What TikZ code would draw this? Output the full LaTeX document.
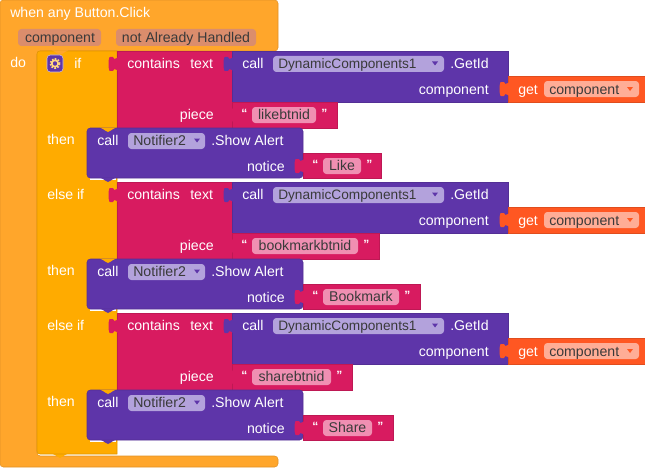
\documentclass[tikz,border=0pt]{standalone}
\usepackage{fontspec}
\setmainfont{Liberation Sans}
\usetikzlibrary{positioning, calc}

\definecolor{eventcol}{HTML}{FFA62B}
\definecolor{ifcol}{HTML}{FFAB00}
\definecolor{textcol}{HTML}{D81B60}
\definecolor{callcol}{HTML}{5E35A9}
\definecolor{getcol}{HTML}{FF5722}
\definecolor{paramfield}{HTML}{DB8D6C}
\definecolor{callfield}{HTML}{B3A2DC}
\definecolor{textfield}{HTML}{F08FB2}
\definecolor{getfield}{HTML}{FFAD96}
\definecolor{darktext}{HTML}{3A3A3A}

\tikzset{
    inputtab/.pic={
        \path[pic actions] (1,-7) -- (0,-6) .. controls (-2,-4) and (-4,-5) .. (-4,-7)
            -- (-7,-7) .. controls (-9,-7) and (-9,7) .. (-7,7) -- (-4,7)
            .. controls (-4,5) and (-2,4) .. (0,6) -- (1,7) -- cycle;
    },
    notch/.pic={
        \path[pic actions] (-8,-0.5) -- (8,-0.5) -- (5,1) .. controls (3,1) and (3,4) .. (0,4)
            .. controls (-3,4) and (-3,1) .. (-5,1) -- cycle;
    },
    ddarrow/.pic={
        \path[pic actions] (-3,-2) -- (3,-2) -- (0,2) -- cycle;
    }
}

\begin{document}
\begin{tikzpicture}[
    x=0.75pt, y=-0.75pt,
    eventblock/.style={fill=eventcol, draw=eventcol!88!black, line width=0.4pt, rounded corners=2.5pt},
    ifblock/.style={fill=ifcol, draw=ifcol!88!black, line width=0.4pt, rounded corners=2.5pt},
    textblock/.style={fill=textcol, draw=textcol!88!black, line width=0.4pt},
    callblock/.style={fill=callcol, draw=callcol!88!black, line width=0.4pt},
    getblock/.style={fill=getcol, draw=getcol!88!black, line width=0.4pt},
    field/.style={rounded corners=2.5pt},
    rim/.style={draw=white, line width=0.8pt},
    label/.style={text=white, font=\fontsize{10.6}{12}\selectfont, inner sep=0pt, anchor=base west, yshift=0.6pt},
    rlabel/.style={label, anchor=base east},
    ftext/.style={label, text=darktext},
    dyntext/.style={ftext, font=\fontsize{10.25}{12}\selectfont},
    quotes/.style={label, font=\fontsize{9}{10}\selectfont\bfseries}
]
    \useasboundingbox (0,0) rectangle (645,467);

    % Event block
    \path[eventblock] (0,0) -- (278,0) -- (278,51) -- (37,51) -- (37,456) -- (278,456) -- (278,467) -- (0,467) -- cycle;
    \node[label] (when) at (10,18) {when any Button.Click};
    \path[field, fill=paramfield] (18,29) rectangle (101,46);
    \node[ftext, anchor=base] (param1) at (60,43) {component};
    \path[field, fill=paramfield] (116,29) rectangle (256,46);
    \node[ftext, anchor=base] (param2) at (186,43) {not Already Handled};
    \node[label] (do) at (10,68) {do};

    % If block
    \pic[fill=ifcol] at (60,454) {notch};
    \path[ifblock, sharp corners] (117,51) -- (117,454) -- (40,454) .. controls (38,454) and (37,453) .. (37,451)
        -- (37,54) .. controls (37,52) and (38,51) .. (40,51) -- cycle;
    \pic[fill=eventcol] at (60,51) {notch};
    \path[field, fill=callcol, draw=callfield!70!white, line width=0.4pt] (47,55) rectangle (63,72);
    \draw[ifcol!50!white, line width=1.5pt, dash pattern=on 1.2pt off 1pt] (55,63.5) circle [radius=4.5];
    \draw[ifcol!50!white, line width=1.2pt] (55,63.5) circle [radius=3.2];
    \node[label] (if1) at (74,69) {if};
    \node[label] (then1) at (47,145) {then};
    \node[label] (elseif2) at (47,200) {else if};
    \node[label] (then2) at (47,276) {then};
    \node[label] (elseif3) at (47,331) {else if};
    \node[label] (then3) at (47,407) {then};

    % First condition
    \path[textblock] (117,51) rectangle (232,128);
    \pic[fill=textcol] at (117,64) {inputtab};
    \node[label] (contains1) at (127,69) {contains};
    \node[label] (text1) at (190,69) {text};
    \node[rlabel] (piece1) at (214,120) {piece};
    \path[callblock] (232,51) rectangle (508,102);
    \pic[fill=callcol] at (232,64) {inputtab};
    \node[label] (callid1) at (242,69) {call};
    \path[field, fill=callfield] (273,56) rectangle (444,72);
    \node[dyntext] (dyn1) at (278,69) {DynamicComponents1};
    \pic[fill=callcol] at (435,63.5) {ddarrow};
    \node[label] (getid1) at (450,69) {.GetId};
    \node[rlabel] (comp1) at (489,95) {component};
    \path[getblock] (508,76) rectangle (645,102);
    \pic[fill=getcol] at (508,89) {inputtab};
    \node[label] (get1) at (518,95) {get};
    \path[field, fill=getfield] (544,81) rectangle (639,97);
    \node[ftext] (getvar1) at (549,95) {component};
    \pic[fill=getcol] at (630,89) {ddarrow};
    \path[textblock] (232,102) rectangle (337,128);
    \pic[fill=textcol] at (232,115) {inputtab};
    \node[quotes] (open1) at (241,118) {“};
    \path[field, fill=textfield] (252,107) rectangle (316,123);
    \node[ftext, anchor=base] (likeid) at (284,120) {likebtnid};
    \node[quotes] (close1) at (321,118) {”};

    % First alert
    \path[rim] (90,179) -- (116,179);
    \path[callblock, rounded corners=2.5pt] (87,128) rectangle (303,178);
    \pic[fill=ifcol] at (108,128) {notch};
    \pic[fill=callcol] at (108,178) {notch};
    \node[label] (call1) at (97,146) {call};
    \path[field, fill=callfield] (128,133) rectangle (205,149);
    \node[ftext] (notif1) at (133,146) {Notifier2};
    \pic[fill=callcol] at (197,140.5) {ddarrow};
    \node[label] (show1) at (211,146) {.Show Alert};
    \node[rlabel] (notice1) at (285,172) {notice};
    \path[textblock] (303,153) rectangle (381,178);
    \pic[fill=textcol] at (303,166) {inputtab};
    \node[quotes] (open2) at (312,169) {“};
    \path[field, fill=textfield] (323,158) rectangle (361,174);
    \node[ftext, anchor=base] (like) at (342,171) {Like};
    \node[quotes] (close2) at (366,169) {”};

    % Second condition
    \path[textblock] (117,182) rectangle (232,259);
    \pic[fill=textcol] at (117,195) {inputtab};
    \node[label] (contains2) at (127,200) {contains};
    \node[label] (text2) at (190,200) {text};
    \node[rlabel] (piece2) at (214,251) {piece};
    \path[callblock] (232,182) rectangle (508,233);
    \pic[fill=callcol] at (232,195) {inputtab};
    \node[label] (callid2) at (242,200) {call};
    \path[field, fill=callfield] (273,187) rectangle (444,203);
    \node[dyntext] (dyn2) at (278,200) {DynamicComponents1};
    \pic[fill=callcol] at (435,194.5) {ddarrow};
    \node[label] (getid2) at (450,200) {.GetId};
    \node[rlabel] (comp2) at (489,226) {component};
    \path[getblock] (508,207) rectangle (645,233);
    \pic[fill=getcol] at (508,220) {inputtab};
    \node[label] (get2) at (518,226) {get};
    \path[field, fill=getfield] (544,212) rectangle (639,228);
    \node[ftext] (getvar2) at (549,226) {component};
    \pic[fill=getcol] at (630,220) {ddarrow};
    \path[textblock] (232,233) rectangle (379,259);
    \pic[fill=textcol] at (232,246) {inputtab};
    \node[quotes] (open3) at (241,249) {“};
    \path[field, fill=textfield] (252,238) rectangle (358,254);
    \node[ftext, anchor=base] (bookmarkid) at (305,251) {bookmarkbtnid};
    \node[quotes] (close3) at (363,249) {”};

    % Second alert
    \path[rim] (90,310) -- (116,310);
    \path[callblock, rounded corners=2.5pt] (87,259) rectangle (303,309);
    \pic[fill=ifcol] at (108,259) {notch};
    \pic[fill=callcol] at (108,309) {notch};
    \node[label] (call2) at (97,277) {call};
    \path[field, fill=callfield] (128,264) rectangle (205,280);
    \node[ftext] (notif2) at (133,277) {Notifier2};
    \pic[fill=callcol] at (197,271.5) {ddarrow};
    \node[label] (show2) at (211,277) {.Show Alert};
    \node[rlabel] (notice2) at (285,303) {notice};
    \path[textblock] (303,284) rectangle (420,309);
    \pic[fill=textcol] at (303,297) {inputtab};
    \node[quotes] (open4) at (312,300) {“};
    \path[field, fill=textfield] (323,289) rectangle (399,305);
    \node[ftext, anchor=base] (bookmark) at (361,302) {Bookmark};
    \node[quotes] (close4) at (404,300) {”};

    % Third condition
    \path[textblock] (117,313) rectangle (232,390);
    \pic[fill=textcol] at (117,326) {inputtab};
    \node[label] (contains3) at (127,331) {contains};
    \node[label] (text3) at (190,331) {text};
    \node[rlabel] (piece3) at (214,382) {piece};
    \path[callblock] (232,313) rectangle (508,364);
    \pic[fill=callcol] at (232,326) {inputtab};
    \node[label] (callid3) at (242,331) {call};
    \path[field, fill=callfield] (273,318) rectangle (444,334);
    \node[dyntext] (dyn3) at (278,331) {DynamicComponents1};
    \pic[fill=callcol] at (435,325.5) {ddarrow};
    \node[label] (getid3) at (450,331) {.GetId};
    \node[rlabel] (comp3) at (489,357) {component};
    \path[getblock] (508,338) rectangle (645,364);
    \pic[fill=getcol] at (508,351) {inputtab};
    \node[label] (get3) at (518,357) {get};
    \path[field, fill=getfield] (544,343) rectangle (639,359);
    \node[ftext] (getvar3) at (549,357) {component};
    \pic[fill=getcol] at (630,351) {ddarrow};
    \path[textblock] (232,364) rectangle (352,390);
    \pic[fill=textcol] at (232,377) {inputtab};
    \node[quotes] (open5) at (241,380) {“};
    \path[field, fill=textfield] (252,369) rectangle (331,385);
    \node[ftext, anchor=base] (shareid) at (291.5,382) {sharebtnid};
    \node[quotes] (close5) at (336,380) {”};

    % Third alert
    \path[rim] (90,441) -- (116,441);
    \path[callblock, rounded corners=2.5pt] (87,390) rectangle (303,440);
    \pic[fill=ifcol] at (108,390) {notch};
    \pic[fill=callcol] at (108,440) {notch};
    \node[label] (call3) at (97,408) {call};
    \path[field, fill=callfield] (128,395) rectangle (205,411);
    \node[ftext] (notif3) at (133,408) {Notifier2};
    \pic[fill=callcol] at (197,402.5) {ddarrow};
    \node[label] (show3) at (211,408) {.Show Alert};
    \node[rlabel] (notice3) at (285,434) {notice};
    \path[textblock] (303,415) rectangle (393,440);
    \pic[fill=textcol] at (303,428) {inputtab};
    \node[quotes] (open6) at (312,431) {“};
    \path[field, fill=textfield] (323,420) rectangle (372,436);
    \node[ftext, anchor=base] (share) at (347.5,433) {Share};
    \node[quotes] (close6) at (377,431) {”};

\end{tikzpicture}
\end{document}
